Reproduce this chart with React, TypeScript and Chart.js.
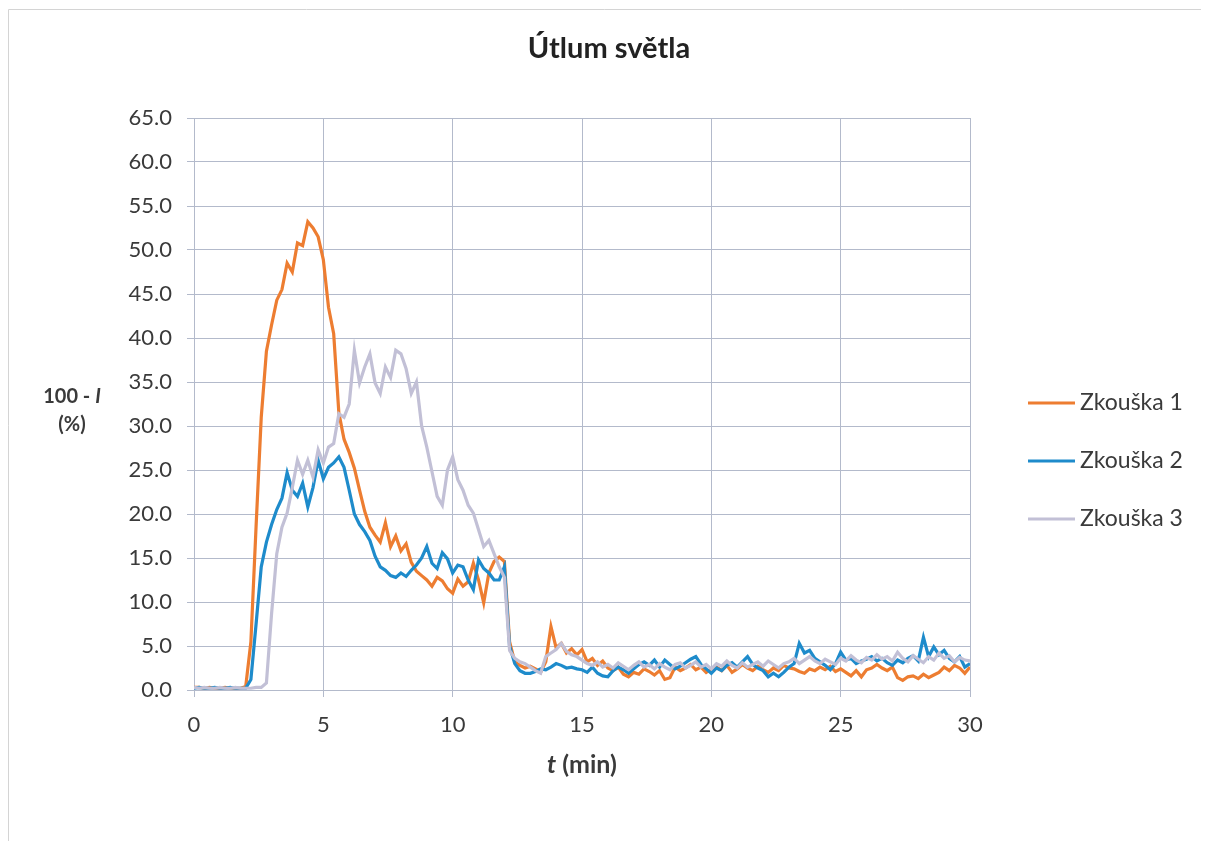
import React, { useEffect, useRef } from "react";
import { Chart, registerables } from "chart.js";

Chart.register(...registerables);

// Time grid: 0 to 30 min, one sample every 0.2 min (5 samples per line = 1 minute)
const TIME_STEP = 0.2;
const TIME_MAX = 30;

const X_TICKS = [0, 5, 10, 15, 20, 25, 30];
const Y_TICKS = [0, 5, 10, 15, 20, 25, 30, 35, 40, 45, 50, 55, 60, 65];

const SERIES_NAMES = ["Zkouška 1", "Zkouška 2", "Zkouška 3"];
const SERIES_COLORS = ["#ED7D31", "#1E8BCB", "#C2C0D6"];

const zkouska1 = [
  0.3, 0.3, 0.2, 0.3, 0.2,
  0.2, 0.3, 0.2, 0.2, 0.2,
  0.4, 5.5, 18.6, 31.0, 38.5,
  41.5, 44.3, 45.5, 48.5, 47.5,
  50.8, 50.5, 53.2, 52.5, 51.5,
  48.9, 43.5, 40.5, 31.5, 28.5,
  27.0, 25.2, 22.7, 20.3, 18.5,
  17.6, 16.8, 19.0, 16.3, 17.5,
  15.8, 16.6, 14.5, 13.5, 13.0,
  12.5, 11.8, 12.8, 12.4, 11.5,
  11.0, 12.6, 11.8, 12.3, 14.4,
  12.5, 9.9, 13.3, 14.6, 15.1,
  14.6, 5.5, 3.2, 2.8, 2.5,
  2.7, 2.4, 2.0, 3.2, 7.2,
  4.8, 5.3, 4.2, 4.7, 4.0,
  4.6, 3.2, 3.6, 2.8, 3.3,
  2.5, 2.2, 2.6, 1.8, 1.5,
  2.0, 1.8, 2.4, 2.1, 1.7,
  2.2, 1.2, 1.4, 2.6, 2.2,
  2.5, 2.9, 2.3, 2.6, 2.0,
  2.4, 2.6, 2.2, 2.8, 2.0,
  2.4, 2.9, 2.5, 2.2, 2.7,
  2.3, 2.0, 2.5, 2.2, 2.8,
  2.5, 2.4, 2.1, 1.9, 2.4,
  2.2, 2.6, 2.3, 2.7, 2.1,
  2.4, 2.0, 1.6, 2.2, 1.5,
  2.3, 2.5, 2.9, 2.5, 2.2,
  2.6, 1.4, 1.1, 1.5, 1.6,
  1.3, 1.8, 1.4, 1.7, 2.0,
  2.6, 2.2, 2.8, 2.5, 1.9,
  2.6,
];

const zkouska2 = [
  0.2, 0.3, 0.2, 0.2, 0.3,
  0.2, 0.2, 0.3, 0.2, 0.2,
  0.2, 1.2, 7.5, 14.0, 16.8,
  18.8, 20.5, 21.8, 24.7, 22.7,
  22.0, 23.5, 20.8, 23.0, 26.1,
  24.0, 25.3, 25.8, 26.5, 25.3,
  22.7, 20.0, 18.8, 18.0, 17.0,
  15.2, 14.0, 13.6, 13.0, 12.8,
  13.3, 12.9, 13.6, 14.2, 15.0,
  16.3, 14.4, 13.8, 15.6, 14.9,
  13.3, 14.2, 14.0, 12.5, 11.4,
  14.8, 13.8, 13.3, 12.5, 12.5,
  14.0, 5.0, 3.0, 2.2, 1.9,
  1.9, 2.1, 2.4, 2.3, 2.6,
  3.0, 2.8, 2.5, 2.6, 2.4,
  2.3, 2.0, 2.6, 1.9, 1.6,
  1.5, 2.2, 2.6, 2.3, 1.9,
  2.4, 2.9, 3.2, 2.8, 3.4,
  2.6, 3.4, 2.9, 2.4, 2.7,
  3.1, 3.5, 3.8, 2.9, 2.4,
  1.9, 2.5, 2.2, 2.8, 3.1,
  2.6, 3.2, 3.8, 2.9, 2.5,
  2.2, 1.5, 1.9, 1.5, 2.0,
  2.6, 3.0, 5.3, 4.2, 4.5,
  3.6, 3.2, 2.8, 2.3, 3.0,
  4.3, 3.4, 3.6, 3.0, 3.3,
  3.5, 3.8, 3.3, 3.6, 3.1,
  2.8, 3.4, 3.1, 3.6, 3.9,
  3.3, 6.0, 3.8, 4.9, 4.0,
  4.5, 3.6, 3.2, 3.8, 2.6,
  3.0,
];

const zkouska3 = [
  0.3, 0.2, 0.3, 0.2, 0.2,
  0.3, 0.2, 0.2, 0.3, 0.2,
  0.2, 0.2, 0.3, 0.3, 0.8,
  8.7, 15.5, 18.5, 20.1, 23.0,
  26.1, 24.5, 26.1, 24.2, 27.3,
  25.8, 27.6, 28.0, 31.4, 31.0,
  32.5, 38.6, 34.9, 36.7, 38.2,
  34.9, 33.7, 36.7, 35.5, 38.6,
  38.2, 36.5, 33.7, 35.0, 30.0,
  27.6, 24.8, 22.0, 21.0, 25.0,
  26.5, 23.9, 22.7, 21.0, 20.1,
  18.2, 16.3, 17.0, 15.5, 14.0,
  12.8, 4.5, 3.6, 3.2, 3.0,
  2.6, 2.2, 1.9, 3.8, 4.2,
  4.6, 5.3, 4.4, 4.0, 3.8,
  3.4, 3.0, 2.8, 3.2, 2.6,
  2.9, 2.5, 3.1, 2.7, 2.3,
  2.8, 3.2, 2.6, 2.9, 2.4,
  3.0, 2.6, 2.3, 2.9, 3.1,
  2.5, 2.8, 3.2, 2.6, 2.9,
  2.4, 3.0, 2.7, 3.3, 2.8,
  2.5, 3.1, 2.6, 2.9, 3.2,
  2.7, 3.3, 2.9, 2.5, 3.0,
  3.2, 3.6, 3.0, 3.4, 3.8,
  3.3, 3.0, 3.5, 3.2, 2.9,
  3.6, 3.3, 3.9, 3.4, 3.1,
  3.7, 3.4, 4.0, 3.5, 3.8,
  3.3, 4.3, 3.6, 3.2, 3.9,
  3.5, 3.1, 3.8, 3.4, 4.2,
  3.6, 3.9, 3.2, 3.7, 3.4,
  3.3,
];

const SERIES = [zkouska1, zkouska2, zkouska3];

const TITLE = "Útlum světla";
const FONT = "Lato, 'Open Sans', sans-serif";
const TEXT_COLOR = "#3a3a3a";
const GRID_COLOR = "#b3bacb";

const W = 1193;
const H = 833;

function drawRich(
  ctx: CanvasRenderingContext2D,
  parts: { text: string; italic?: boolean }[],
  cx: number,
  cy: number,
  size: number
) {
  const fonts = parts.map((p) => `${p.italic ? "italic " : ""}bold ${size}px ${FONT}`);
  let total = 0;
  const widths = parts.map((p, i) => {
    ctx.font = fonts[i];
    const w = ctx.measureText(p.text).width;
    total += w;
    return w;
  });
  let x = cx - total / 2;
  ctx.textAlign = "left";
  ctx.textBaseline = "middle";
  parts.forEach((p, i) => {
    ctx.font = fonts[i];
    ctx.fillText(p.text, x, cy);
    x += widths[i];
  });
}

const decorPlugin = {
  id: "decor",
  afterDraw(chart: any) {
    const ctx: CanvasRenderingContext2D = chart.ctx;
    const area = chart.chartArea;
    ctx.save();
    // frame (top and left edges)
    ctx.strokeStyle = "#d4d4d4";
    ctx.lineWidth = 1;
    ctx.beginPath();
    ctx.moveTo(0.5, H);
    ctx.lineTo(0.5, 1.5);
    ctx.lineTo(W, 1.5);
    ctx.stroke();

    ctx.fillStyle = "#222222";
    // title
    ctx.font = `bold 29px ${FONT}`;
    ctx.textAlign = "center";
    ctx.textBaseline = "middle";
    ctx.fillText(TITLE, 601, 41);

    ctx.fillStyle = TEXT_COLOR;
    // y axis title
    drawRich(ctx, [{ text: "100 - " }, { text: "I", italic: true }], 64, 389, 20);
    drawRich(ctx, [{ text: "(%)" }], 64, 417, 20);
    // x axis title
    drawRich(ctx, [{ text: "t", italic: true }, { text: " (min)" }], (area.left + area.right) / 2, 757, 25);

    // legend
    const lx0 = 1020;
    const lx1 = 1067;
    const ly0 = 395;
    const ldy = 58;
    chart.data.datasets.forEach((ds: any, i: number) => {
      const y = ly0 + i * ldy;
      ctx.strokeStyle = ds.borderColor;
      ctx.lineWidth = 3;
      ctx.beginPath();
      ctx.moveTo(lx0, y);
      ctx.lineTo(lx1, y);
      ctx.stroke();
      ctx.fillStyle = TEXT_COLOR;
      ctx.font = `23px ${FONT}`;
      ctx.textAlign = "left";
      ctx.textBaseline = "middle";
      ctx.fillText(ds.label, lx1 + 5, y);
    });
    ctx.restore();
  },
};

export default function App() {
  const ref = useRef<HTMLCanvasElement | null>(null);

  useEffect(() => {
    if (!ref.current) return;
    const n = Math.round(TIME_MAX / TIME_STEP) + 1;
    const times = Array.from({ length: n }, (_, i) => Math.round(i * TIME_STEP * 10) / 10);
    const order = [3, 2, 1];
    const datasets = SERIES.map((vals, si) => ({
      label: SERIES_NAMES[si],
      data: vals.map((v, i) => ({ x: times[i], y: v })),
      borderColor: SERIES_COLORS[si],
      backgroundColor: SERIES_COLORS[si],
      borderWidth: 3.2,
      pointRadius: 0,
      tension: 0,
      order: order[si],
    }));

    const chart = new Chart(ref.current, {
      type: "line",
      data: { datasets },
      plugins: [decorPlugin],
      options: {
        animation: false,
        responsive: false,
        maintainAspectRatio: false,
        layout: { padding: { top: 110, right: W - 962, left: 0, bottom: 0 } },
        plugins: {
          legend: { display: false },
          title: { display: false },
          tooltip: { enabled: false },
        },
        scales: {
          x: {
            type: "linear",
            min: 0,
            max: 30,
            afterBuildTicks: (scale: any) => {
              scale.ticks = X_TICKS.map((v) => ({ value: v }));
            },
            afterFit: (scale: any) => {
              scale.height = H - 682;
            },
            ticks: {
              color: TEXT_COLOR,
              font: { family: FONT, size: 22 },
              padding: 15,
              maxRotation: 0,
              callback: (v: any) => String(v),
            },
            grid: { color: GRID_COLOR, tickLength: 7, lineWidth: 1 },
            border: { color: GRID_COLOR },
          },
          y: {
            type: "linear",
            min: 0,
            max: 65,
            afterBuildTicks: (scale: any) => {
              scale.ticks = Y_TICKS.map((v) => ({ value: v }));
            },
            afterFit: (scale: any) => {
              scale.width = 186;
            },
            ticks: {
              color: TEXT_COLOR,
              font: { family: FONT, size: 22 },
              padding: 15,
              callback: (v: any) => Number(v).toFixed(1),
            },
            grid: { color: GRID_COLOR, tickLength: 7, lineWidth: 1 },
            border: { color: GRID_COLOR },
          },
        },
      },
    } as any);
    return () => chart.destroy();
  }, []);

  return (
    <div style={{ width: W, height: H }}>
      <canvas ref={ref} width={W} height={H} style={{ width: W, height: H, display: "block" }} />
    </div>
  );
}
